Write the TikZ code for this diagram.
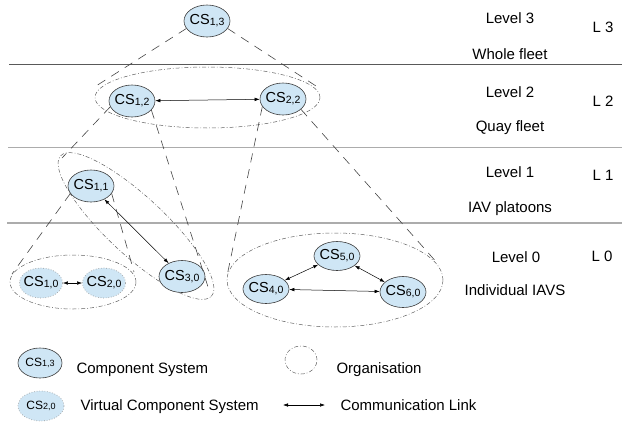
\documentclass[tikz,border=0pt]{standalone}
\usepackage{fontspec}
\setmainfont{Liberation Sans}
\usetikzlibrary{shapes.geometric,arrows.meta}
\definecolor{csfill}{RGB}{207,230,245}
\definecolor{csline}{RGB}{60,60,60}
\newcommand{\cslab}[2]{\makebox[0pt]{CS{\fontsize{10.5}{12}\selectfont\raisebox{-0.8pt}{#1,#2}}}}
\newcommand{\cslegend}[2]{\makebox[0pt]{{\fontsize{12}{14}\selectfont CS}{\fontsize{9}{11}\selectfont\raisebox{-0.6pt}{#1,#2}}}}
\tikzset{
  cs/.style={ellipse, draw=csline, fill=csfill, line width=0.6pt, minimum width=46pt, minimum height=32pt, inner sep=0pt, font=\fontsize{14.5}{17}\selectfont},
  vcs/.style={cs, draw=gray!80, dotted, line width=0.7pt},
  org/.style={ellipse, draw=gray!75!black, line width=0.5pt, dash pattern=on 4pt off 2pt on 0.8pt off 2pt, inner sep=0pt},
  cone/.style={draw=gray!55!black, line width=0.6pt, dash pattern=on 9pt off 7pt},
  link/.style={{Latex[length=5pt,width=3.5pt]}-{Latex[length=5pt,width=3.5pt]}, line width=0.5pt},
  lvl/.style={anchor=base, font=\fontsize{15}{18}\selectfont},
  legtext/.style={anchor=base west, font=\fontsize{15}{18}\selectfont},
  sepdark/.style={draw=gray!70!black, line width=0.7pt},
  seplight/.style={draw=gray!65, line width=1.3pt}
}
\begin{document}
\begin{tikzpicture}[x=1pt,y=-1pt]
\useasboundingbox (0,0) rectangle (622,421);
% separators
\draw[sepdark] (9,64) -- (622,64);
\draw[seplight] (8,147.5) -- (622,147.5);
\draw[seplight] (7,223) -- (622,223);
% organisations
\node[org, minimum width=225pt, minimum height=61pt] (org2) at (207.5,97.5) {};
\node[org, rotate=-43, minimum width=206pt, minimum height=58pt] (orgT) at (136,226) {};
\node[org, minimum width=126pt, minimum height=54pt] (orgL) at (73,282) {};
\node[org, minimum width=216pt, minimum height=94pt] (orgR) at (335,280) {};
% component systems
\node[cs] (cs13) at (207,21) {\cslab{1}{3}};
\node[cs] (cs12) at (132,101) {\cslab{1}{2}};
\node[cs] (cs22) at (283,99) {\cslab{2}{2}};
\node[cs] (cs11) at (91,186) {\cslab{1}{1}};
\node[cs] (cs30) at (182,276.5) {\cslab{3}{0}};
\node[vcs, minimum width=43pt, minimum height=30pt] (cs10) at (41,283) {\cslab{1}{0}};
\node[vcs, minimum width=43pt, minimum height=30pt] (cs20) at (104,283) {\cslab{2}{0}};
\node[cs, minimum height=29pt] (cs50) at (337,256) {\cslab{5}{0}};
\node[cs, minimum height=29pt] (cs40) at (266,289) {\cslab{4}{0}};
\node[cs, minimum height=31pt] (cs60) at (403,292) {\cslab{6}{0}};
% cone ends
\coordinate (c13l) at (96,86);
\coordinate (c13r) at (316,86);
\coordinate (c12l) at (62,158);
\coordinate (c12r) at (209,290);
\coordinate (c22l) at (227,276);
\coordinate (c22r) at (439,265);
\coordinate (c11l) at (12,274);
\coordinate (c11r) at (134,272);
\draw[cone] (cs13.200) -- (c13l);
\draw[cone] (cs13.340) -- (c13r);
\draw[cone] (cs12.195) -- (c12l);
\draw[cone] (cs12.335) -- (c12r);
\draw[cone] (cs22.200) -- (c22l);
\draw[cone] (cs22.330) -- (c22r);
\draw[cone] (cs11.200) -- (c11l);
\draw[cone] (cs11.340) -- (c11r);
% links
\draw[link] (cs12) -- (cs22);
\draw[link] (cs11) -- (cs30);
\draw[link] (cs10) -- (cs20);
\draw[link] (cs40) -- (cs50);
\draw[link] (cs50) -- (cs60);
\draw[link] (cs40) -- (cs60);
% level texts
\node[lvl] (l3a) at (510,23) {Level 3};
\node[lvl] (l3b) at (510,59) {Whole fleet};
\node[lvl] (l3c) at (603,32) {L 3};
\node[lvl] (l2a) at (510,97) {Level 2};
\node[lvl] (l2b) at (510,131) {Quay fleet};
\node[lvl] (l2c) at (603,106) {L 2};
\node[lvl] (l1a) at (510,177) {Level 1};
\node[lvl] (l1b) at (510,212) {IAV platoons};
\node[lvl] (l1c) at (603,180) {L 1};
\node[lvl] (l0a) at (516,262) {Level 0};
\node[lvl] (l0b) at (515,295) {Individual IAVS};
\node[lvl] (l0c) at (602,261) {L 0};
% legend
\node[cs, minimum width=44pt, minimum height=30pt] (legcs) at (40,363) {\cslegend{1}{3}};
\node[legtext] (legcst) at (73,373) {Component System};
\node[org, minimum width=32pt, minimum height=28pt] (legorg) at (301,360) {};
\node[legtext] (legorgt) at (333,373) {Organisation};
\node[vcs, minimum width=46pt, minimum height=30pt] (legvcs) at (41,406) {\cslegend{2}{0}};
\node[legtext] (legvcst) at (77,410) {Virtual Component System};
\coordinate (lla) at (283,405);
\coordinate (llb) at (325,405);
\draw[link] (lla) -- (llb);
\node[legtext] (leglinkt) at (337,410) {Communication Link};
\end{tikzpicture}
\end{document}
